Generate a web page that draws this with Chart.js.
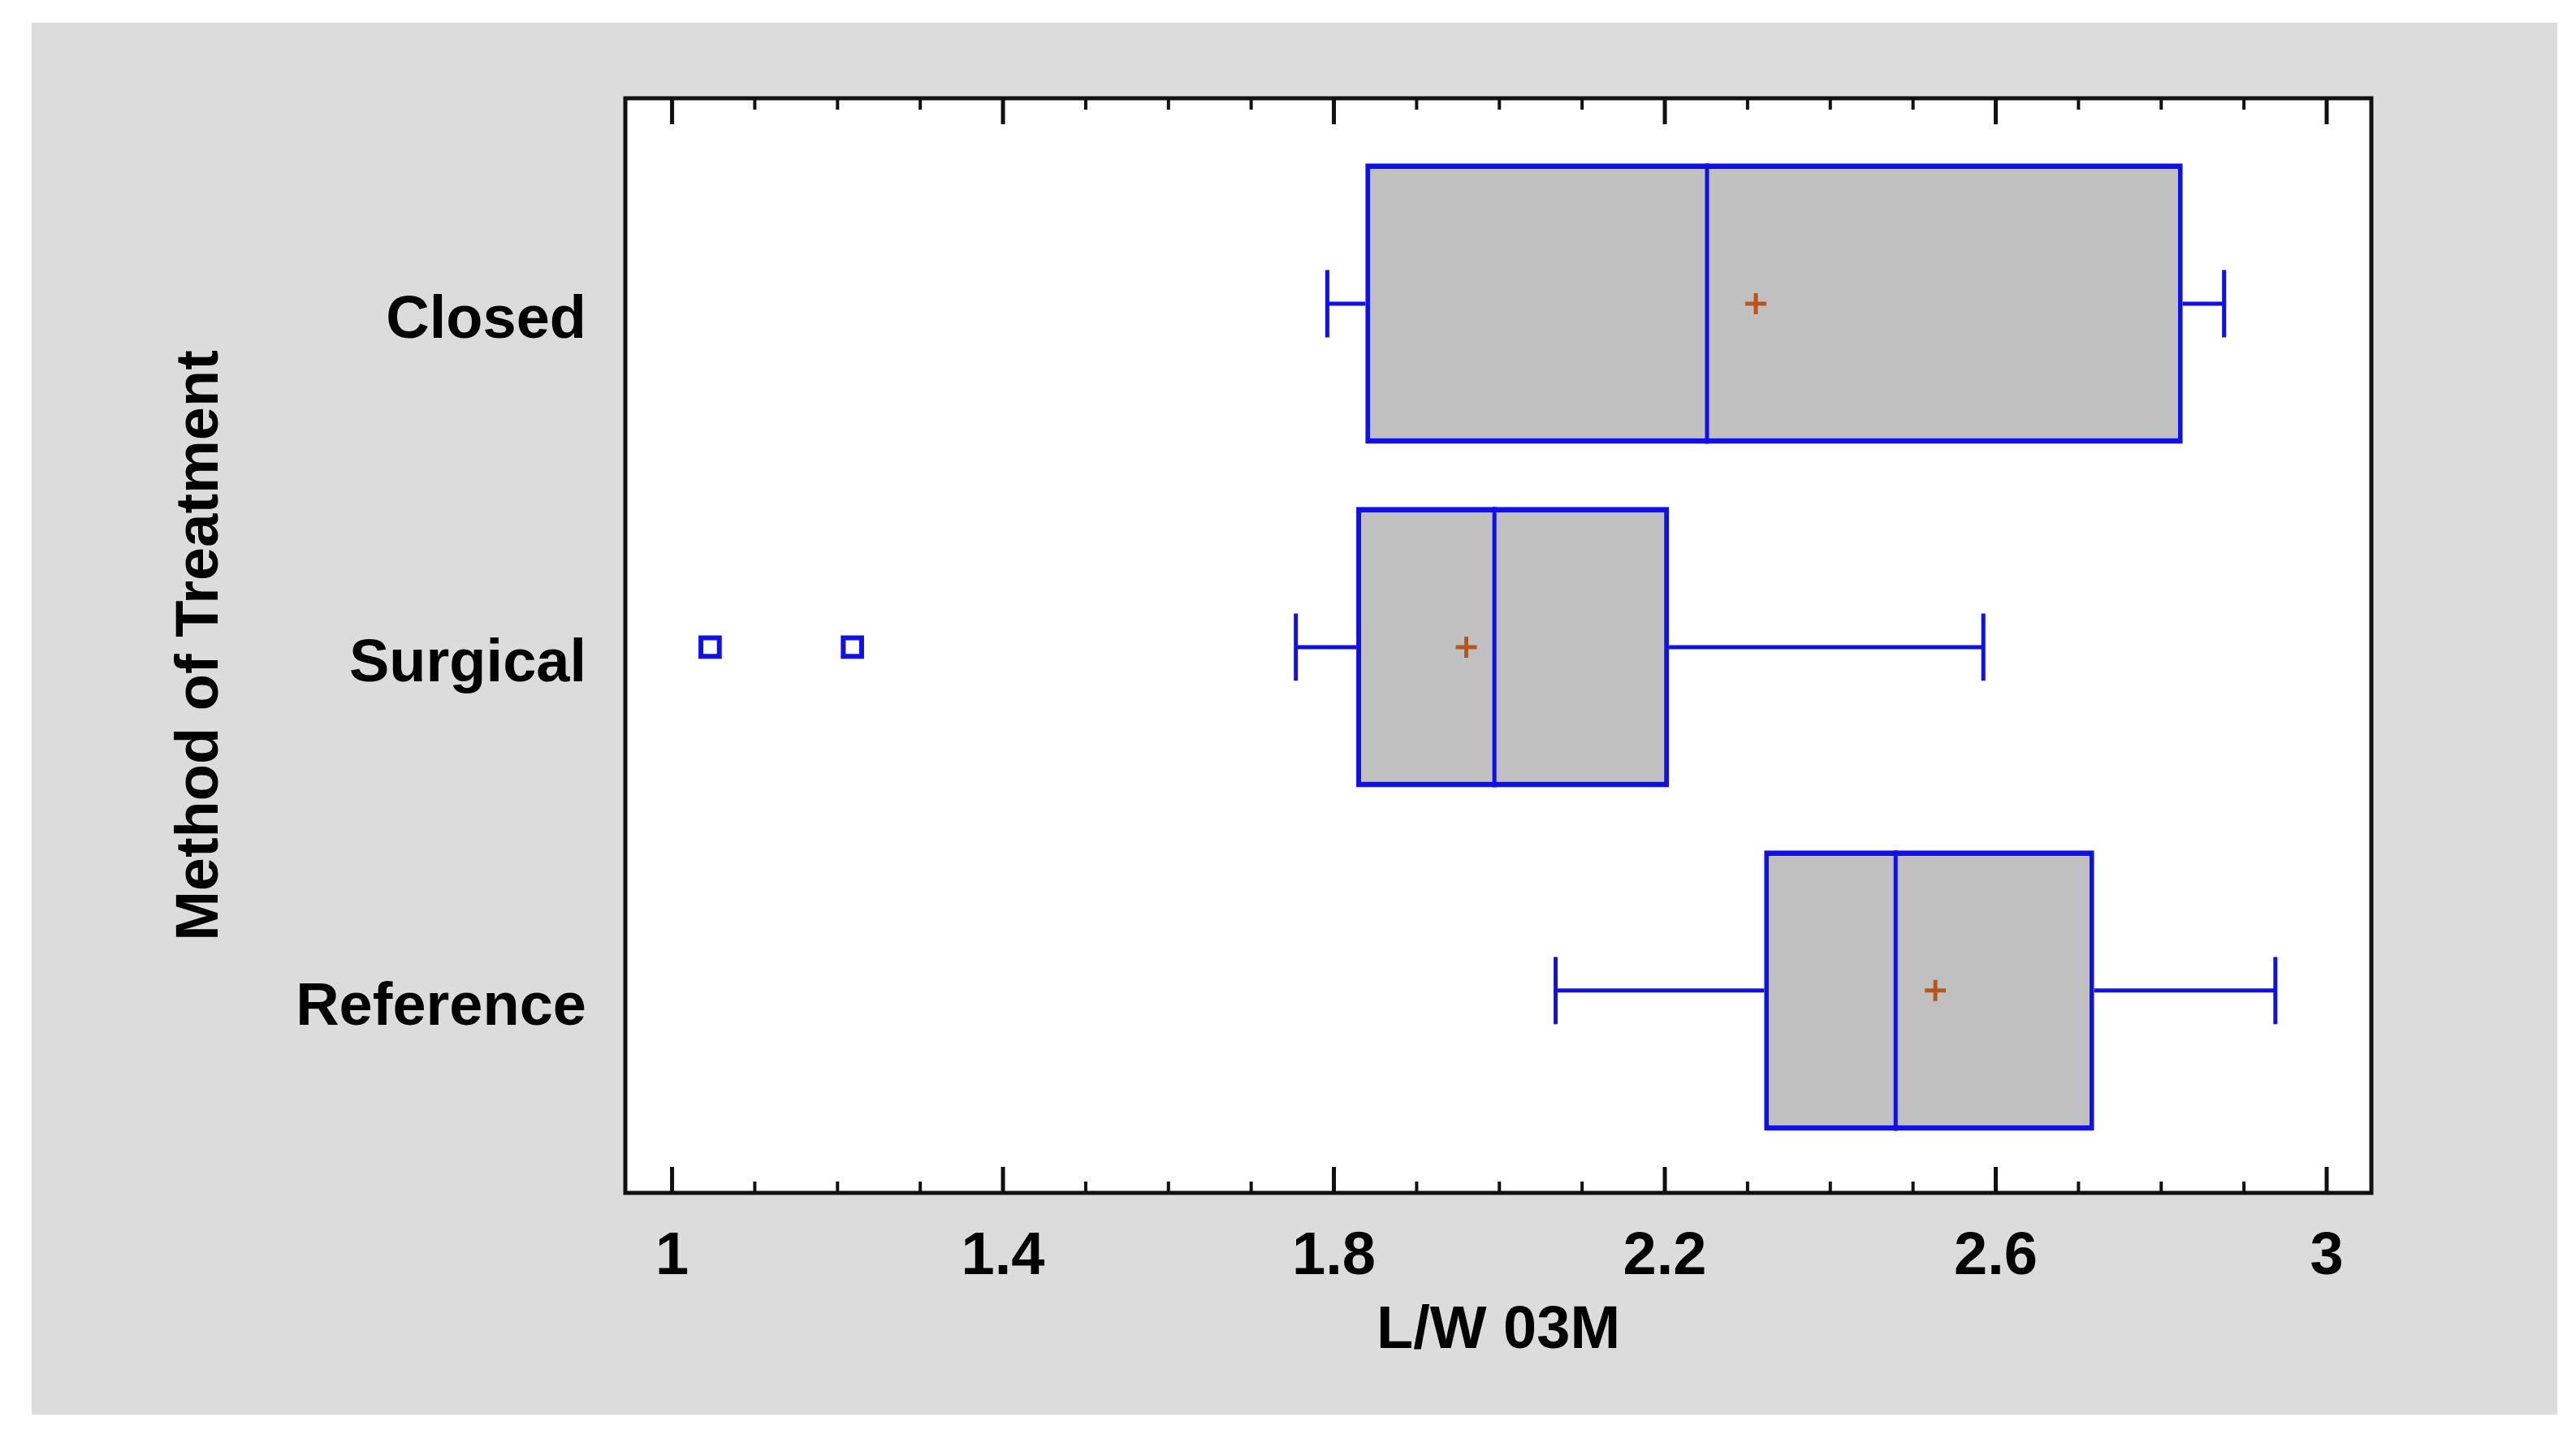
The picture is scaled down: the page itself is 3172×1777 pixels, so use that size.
<!DOCTYPE html>
<html>
<head>
<meta charset="utf-8">
<script src="https://cdn.jsdelivr.net/npm/chart.js@4.4.1/dist/chart.umd.min.js"></script>
<style>
  html, body { margin: 0; padding: 0; background: #ffffff; }
  #wrap { position: absolute; left: 39px; top: 28px; width: 3110px; height: 1714px; background: #dcdcdc; }
  canvas { display: block; }
</style>
</head>
<body>
<div id="wrap"><canvas id="c" width="3110" height="1714"></canvas></div>
<script>
// ---- data ----
const categories  = ['Closed', 'Surgical', 'Reference'];
const whiskerLow  = [1.792, 1.754, 2.068];
const q1          = [1.838, 1.827, 2.320];
const median      = [2.251, 1.994, 2.479];
const mean        = [2.310, 1.960, 2.527];
const q3          = [2.826, 2.205, 2.719];
const whiskerHigh = [2.876, 2.585, 2.938];
const outlierCategory = [1, 1];
const outlierValue    = [1.046, 1.218];
const xTickValues = [1, 1.4, 1.8, 2.2, 2.6, 3];
const xTickLabels = ['1', '1.4', '1.8', '2.2', '2.6', '3'];
const xTitle = 'L/W 03M';
const yTitle = 'Method of Treatment';

// ---- style constants ----
const BLUE = '#1010e8';
const BOX_FILL = '#c0c0c0';
const MEAN_COLOR = '#b8561a';
const BOX_HALF = 0.408;   // half box height, in category units
const CAP_HALF = 0.098;   // half whisker-cap length, in category units
const FONT = "'Liberation Sans', Arial, Helvetica, sans-serif";

const minorTicks = [];
for (let k = 10; k <= 30; k++) minorTicks.push(k / 10);
function majorIndex(v) {
  return xTickValues.findIndex(m => Math.abs(m - v) < 1e-6);
}

// whiskers + caps as one line dataset with gaps
const whiskerPts = [];
categories.forEach((c, i) => {
  whiskerPts.push({x: whiskerLow[i], y: i}, {x: q1[i], y: i}, {x: q1[i], y: null});
  whiskerPts.push({x: q3[i], y: i}, {x: whiskerHigh[i], y: i}, {x: whiskerHigh[i], y: null});
  whiskerPts.push({x: whiskerLow[i], y: i - CAP_HALF}, {x: whiskerLow[i], y: i + CAP_HALF}, {x: whiskerLow[i], y: null});
  whiskerPts.push({x: whiskerHigh[i], y: i - CAP_HALF}, {x: whiskerHigh[i], y: i + CAP_HALF}, {x: whiskerHigh[i], y: null});
});
const medianPts = [];
categories.forEach((c, i) => {
  medianPts.push({x: median[i], y: i - BOX_HALF}, {x: median[i], y: i + BOX_HALF}, {x: median[i], y: null});
});

const framePlugin = {
  id: 'frame',
  beforeDraw(chart) {
    const a = chart.chartArea, ctx = chart.ctx;
    ctx.save();
    ctx.fillStyle = '#ffffff';
    ctx.fillRect(a.left, a.top, a.right - a.left, a.bottom - a.top);
    ctx.restore();
  },
  afterDatasetsDraw(chart) {
    const a = chart.chartArea, ctx = chart.ctx, xs = chart.scales.x;
    ctx.save();
    ctx.strokeStyle = '#111111';
    xs.ticks.forEach(t => {
      const px = xs.getPixelForValue(t.value);
      const major = majorIndex(t.value) >= 0;
      const len = major ? 32 : 14;
      ctx.lineWidth = major ? 5 : 4;
      ctx.beginPath();
      ctx.moveTo(px, a.bottom); ctx.lineTo(px, a.bottom - len);
      ctx.moveTo(px, a.top); ctx.lineTo(px, a.top + len);
      ctx.stroke();
    });
    ctx.lineWidth = 5;
    ctx.strokeRect(a.left, a.top, a.right - a.left, a.bottom - a.top);
    ctx.restore();
  }
};

new Chart(document.getElementById('c'), {
  type: 'bar',
  data: {
    datasets: [
      {
        type: 'scatter',
        data: mean.map((m, i) => ({x: m, y: i})),
        pointStyle: 'cross',
        pointRadius: 13,
        borderColor: MEAN_COLOR,
        borderWidth: 5,
        backgroundColor: MEAN_COLOR
      },
      {
        type: 'scatter',
        data: outlierValue.map((v, k) => ({x: v, y: outlierCategory[k]})),
        pointStyle: 'rect',
        pointRadius: 16,
        borderColor: BLUE,
        borderWidth: 6,
        backgroundColor: 'rgba(0,0,0,0)'
      },
      {
        type: 'line',
        data: medianPts,
        borderColor: BLUE,
        borderWidth: 5,
        pointRadius: 0,
        spanGaps: false,
        fill: false
      },
      {
        type: 'bar',
        indexAxis: 'y',
        data: categories.map((c, i) => ({x: [q1[i], q3[i]], y: i})),
        backgroundColor: BOX_FILL,
        borderColor: BLUE,
        borderWidth: {top: 7, bottom: 7, left: 6, right: 6},
        borderSkipped: false,
        categoryPercentage: 1,
        barPercentage: BOX_HALF * 2
      },
      {
        type: 'line',
        data: whiskerPts,
        borderColor: BLUE,
        borderWidth: 5,
        pointRadius: 0,
        spanGaps: false,
        fill: false
      }
    ]
  },
  options: {
    responsive: false,
    animation: false,
    devicePixelRatio: 1,
    layout: { padding: { top: 93, right: 229, left: 0, bottom: 0 } },
    plugins: { legend: { display: false }, tooltip: { enabled: false } },
    scales: {
      x: {
        type: 'linear',
        position: 'bottom',
        offset: false,
        min: 0.9435,
        max: 3.054,
        grid: { display: false, offset: false },
        border: { display: false },
        afterBuildTicks: s => { s.ticks = minorTicks.map(v => ({value: v})); },
        afterFit: s => { s.height = 273; },
        ticks: {
          autoSkip: false,
          maxRotation: 0,
          padding: 27,
          color: '#000',
          font: { family: FONT, size: 74, weight: 'bold' },
          callback: v => { const k = majorIndex(v); return k >= 0 ? xTickLabels[k] : ''; }
        },
        title: {
          display: true,
          text: xTitle,
          color: '#000',
          font: { family: FONT, size: 74, weight: 'bold' },
          padding: { top: 0, bottom: 58 }
        }
      },
      y: {
        type: 'linear',
        position: 'left',
        offset: false,
        reverse: true,
        min: -0.598,
        max: 2.589,
        grid: { display: false, offset: false },
        border: { display: false },
        afterBuildTicks: s => { s.ticks = categories.map((c, i) => ({value: i})); },
        afterFit: s => { s.width = 731; },
        ticks: {
          autoSkip: false,
          padding: 40,
          labelOffset: 22,
          color: '#000',
          font: { family: FONT, size: 74, weight: 'bold' },
          callback: v => (Number.isInteger(v) && categories[v] !== undefined) ? categories[v] : ''
        },
        title: {
          display: true,
          text: yTitle,
          color: '#000',
          font: { family: FONT, size: 74, weight: 'bold' },
          padding: { top: 164, bottom: 0 }
        }
      }
    }
  },
  plugins: [framePlugin]
});
</script>
</body>
</html>
